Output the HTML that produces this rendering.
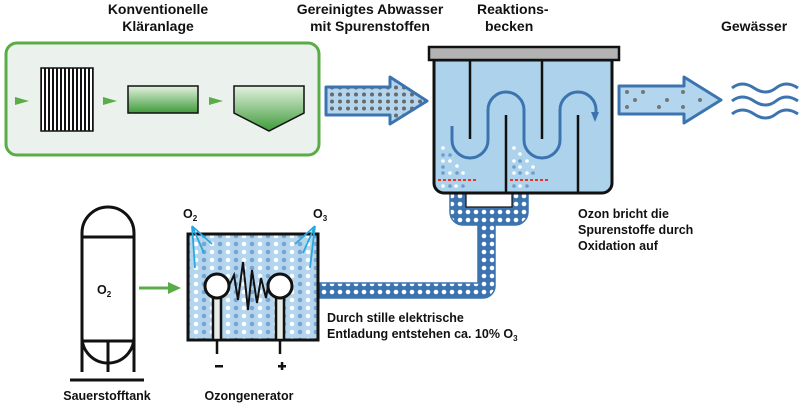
<!DOCTYPE html>
<html><head><meta charset="utf-8"><style>
body{margin:0;background:#fff;width:800px;height:406px;overflow:hidden}
svg{display:block}
.t{font-family:"Liberation Sans Narrow","Liberation Sans",sans-serif;font-weight:bold;font-size:14px;fill:#111}
.b{font-family:"Liberation Sans",sans-serif;font-weight:bold;font-size:12.5px;fill:#111}
</style></head><body>
<svg width="800" height="406" viewBox="0 0 800 406" xmlns="http://www.w3.org/2000/svg">
<defs>
<linearGradient id="g" x1="0" y1="0" x2="0" y2="1"><stop offset="0" stop-color="#e4f1e0"/><stop offset="1" stop-color="#3e9b3a"/></linearGradient>
<pattern id="gd" width="8" height="7" patternUnits="userSpaceOnUse"><rect width="8" height="7" fill="#b3d5ee"/><circle cx="4" cy="3.5" r="2" fill="#6a6a6a"/></pattern>
<pattern id="pd" width="8" height="8" patternUnits="userSpaceOnUse"><rect width="8" height="8" fill="#3c74b0"/><circle cx="4" cy="4" r="2.3" fill="#fff"/></pattern>
<pattern id="od2" width="16" height="8" patternUnits="userSpaceOnUse"><rect width="16" height="8" fill="#b3d5ee"/><circle cx="4" cy="4" r="2.3" fill="#fff"/><circle cx="12" cy="4" r="2.3" fill="#7aa3cf"/></pattern>
<pattern id="st" width="4" height="10" patternUnits="userSpaceOnUse"><rect width="4" height="10" fill="#fff"/><rect width="2" height="10" fill="#111"/></pattern>
</defs>

<text class="t" x="158" y="14" text-anchor="middle">Konventionelle</text>
<text class="t" x="158" y="31" text-anchor="middle">Kläranlage</text>
<text class="t" x="370" y="14" text-anchor="middle">Gereinigtes Abwasser</text>
<text class="t" x="370" y="31" text-anchor="middle">mit Spurenstoffen</text>
<text class="t" x="477" y="14">Reaktions-</text>
<text class="t" x="485" y="31">becken</text>
<text class="t" x="721" y="31">Gewässer</text>

<rect x="6" y="43" width="313" height="112" rx="11" fill="#ebf1ed" stroke="#5aac46" stroke-width="3"/>
<polygon points="15,97 29,101 15,105" fill="#5aac46"/>
<polygon points="103,97 117,101 103,105" fill="#5aac46"/>
<polygon points="209,97 223,101 209,105" fill="#5aac46"/>
<rect x="41" y="68" width="52" height="63" fill="url(#st)" stroke="#111" stroke-width="1.5"/>
<rect x="128" y="86" width="70" height="27" fill="url(#g)" stroke="#111" stroke-width="1.5"/>
<polygon points="234,86 304,86 304,113 269,131 234,113" fill="url(#g)" stroke="#111" stroke-width="1.5"/>

<polygon points="326,87 390,87 390,77 427,101 390,124 390,115 326,115" fill="url(#gd)" stroke="#3c74b0" stroke-width="3" stroke-linejoin="round"/>

<path d="M450,190 V212 a13 13 0 0 0 13 13 H478 V283 H318 V298 H483 a12 12 0 0 0 12 -12 V225 H515 a13 13 0 0 0 13 -13 V190 Z" fill="url(#pd)" stroke="#3c74b0" stroke-width="1.5"/>
<rect x="466" y="192" width="46" height="15" fill="#fff" stroke="#111" stroke-width="1.2"/>

<path d="M434,60 H612 V183 a10 10 0 0 1 -10 10 H444 a10 10 0 0 1 -10 -10 Z" fill="#acd2ec" stroke="#111" stroke-width="3"/>
<rect x="429" y="47" width="190" height="13" fill="#b3b3b3" stroke="#111" stroke-width="2.5"/>
<g fill="#fff">
<circle cx="443" cy="148" r="1.8"/><circle cx="443" cy="161" r="1.8"/><circle cx="450" cy="161" r="1.8"/><circle cx="457" cy="166" r="1.8"/><circle cx="450" cy="173" r="1.8"/><circle cx="463" cy="173" r="1.8"/><circle cx="443" cy="186" r="1.8"/><circle cx="456" cy="186" r="1.8"/>
<circle cx="514" cy="148" r="1.8"/><circle cx="520" cy="154" r="1.8"/><circle cx="514" cy="161" r="1.8"/><circle cx="527" cy="161" r="1.8"/><circle cx="520" cy="167" r="1.8"/><circle cx="533" cy="167" r="1.8"/><circle cx="514" cy="173" r="1.8"/><circle cx="527" cy="173" r="1.8"/><circle cx="520" cy="186" r="1.8"/>
</g>
<g fill="#6f9ccc">
<circle cx="443" cy="155" r="1.8"/><circle cx="450" cy="155" r="1.8"/><circle cx="443" cy="167" r="1.8"/><circle cx="457" cy="173" r="1.8"/><circle cx="443" cy="173" r="1.8"/><circle cx="450" cy="186" r="1.8"/><circle cx="463" cy="186" r="1.8"/>
<circle cx="520" cy="161" r="1.8"/><circle cx="514" cy="167" r="1.8"/><circle cx="520" cy="173" r="1.8"/><circle cx="533" cy="173" r="1.8"/><circle cx="514" cy="186" r="1.8"/><circle cx="527" cy="186" r="1.8"/>
</g>
<line x1="438" y1="180" x2="476" y2="180" stroke="#e32" stroke-width="2" stroke-dasharray="3,2"/>
<line x1="510" y1="180" x2="548" y2="180" stroke="#e32" stroke-width="2" stroke-dasharray="3,2"/>
<g stroke="#111" stroke-width="2.5">
<line x1="470" y1="60" x2="470" y2="139"/><line x1="542" y1="60" x2="542" y2="139"/>
<line x1="506" y1="115" x2="506" y2="193"/><line x1="578" y1="115" x2="578" y2="193"/>
</g>
<path d="M452,126 V140 a18 18 0 0 0 36 0 V110 a18 18 0 0 1 36 0 V140 a18 18 0 0 0 36 0 V110 a18 18 0 0 1 36 0 V114" fill="none" stroke="#3c74b0" stroke-width="3"/>
<polygon points="591,112 599,112 595,122" fill="#3c74b0"/>

<polygon points="619,86 684,86 684,77 721,100 684,123 684,114 619,114" fill="#b3d5ee" stroke="#3c74b0" stroke-width="3" stroke-linejoin="round"/>
<g fill="#777"><circle cx="627" cy="92" r="2"/><circle cx="643" cy="92" r="2"/><circle cx="683" cy="92" r="2"/><circle cx="635" cy="100" r="2"/><circle cx="667" cy="100" r="2"/><circle cx="700" cy="100" r="2"/><circle cx="627" cy="107" r="2"/><circle cx="659" cy="107" r="2"/><circle cx="683" cy="107" r="2"/></g>
<g fill="none" stroke="#3c74b0" stroke-width="3">
<path d="M732,88 q10,-8 22,0 t22,0 t22,0"/>
<path d="M732,101 q10,-8 22,0 t22,0 t22,0"/>
<path d="M732,114 q10,-8 22,0 t22,0 t22,0"/>
</g>

<text class="b" x="578" y="218">Ozon bricht die</text>
<text class="b" x="578" y="234">Spurenstoffe durch</text>
<text class="b" x="578" y="250">Oxidation auf</text>

<g fill="none" stroke="#111" stroke-width="3">
<path d="M82,372 V233 a26 26 0 0 1 52 0 V372"/>
<line x1="82" y1="237" x2="134" y2="237"/>
<path d="M82,337 a26 26 0 0 0 52 0"/>
<line x1="82" y1="341" x2="134" y2="341"/>
<line x1="108" y1="341" x2="108" y2="372"/>
<line x1="70" y1="380" x2="144" y2="380" stroke-width="3"/>
</g>
<text class="b" x="97" y="294" font-size="13">O<tspan font-size="8" dy="3">2</tspan></text>
<line x1="139" y1="288" x2="170" y2="288" stroke="#5aac46" stroke-width="3"/>
<polygon points="168,282 181,288 168,294" fill="#5aac46"/>

<rect x="188" y="234" width="130" height="106" fill="url(#od2)" stroke="#111" stroke-width="3"/>
<g stroke="#111" stroke-width="2.5">
<rect x="213" y="290" width="8" height="50" fill="#e6ece8"/>
<rect x="276" y="290" width="8" height="50" fill="#e6ece8"/>
<line x1="217" y1="340" x2="217" y2="354"/><line x1="280" y1="340" x2="280" y2="354"/>
</g>
<circle cx="217" cy="286" r="12" fill="#fff" stroke="#111" stroke-width="3"/>
<circle cx="280" cy="286" r="12" fill="#fff" stroke="#111" stroke-width="3"/>
<polyline points="229,286 234,275 238,300 243,262 248,310 252,270 257,303 261,278 266,298 268,286" fill="none" stroke="#111" stroke-width="2"/>
<rect x="215" y="365" width="8" height="2.5" fill="#111"/>
<rect x="278" y="365" width="8" height="2.5" fill="#111"/><rect x="280.8" y="362" width="2.5" height="8" fill="#111"/>
<g stroke="#29a8e0" stroke-width="1.8" fill="none">
<path d="M192,226 L212,244 M192,226 L204,253 M192,226 L195,268"/>
<path d="M315,226 L295,244 M315,226 L303,253 M315,226 L310,268"/>
</g>
<text class="b" x="183" y="218" font-size="13">O<tspan font-size="8" dy="3">2</tspan></text>
<text class="b" x="313" y="218" font-size="13">O<tspan font-size="8" dy="3">3</tspan></text>

<text class="b" x="327" y="322">Durch stille elektrische</text>
<text class="b" x="327" y="338">Entladung entstehen ca. 10% O<tspan font-size="8" dy="3">3</tspan></text>

<text class="b" x="107" y="400" text-anchor="middle">Sauerstofftank</text>
<text class="b" x="249" y="400" text-anchor="middle">Ozongenerator</text>
</svg>
</body></html>
